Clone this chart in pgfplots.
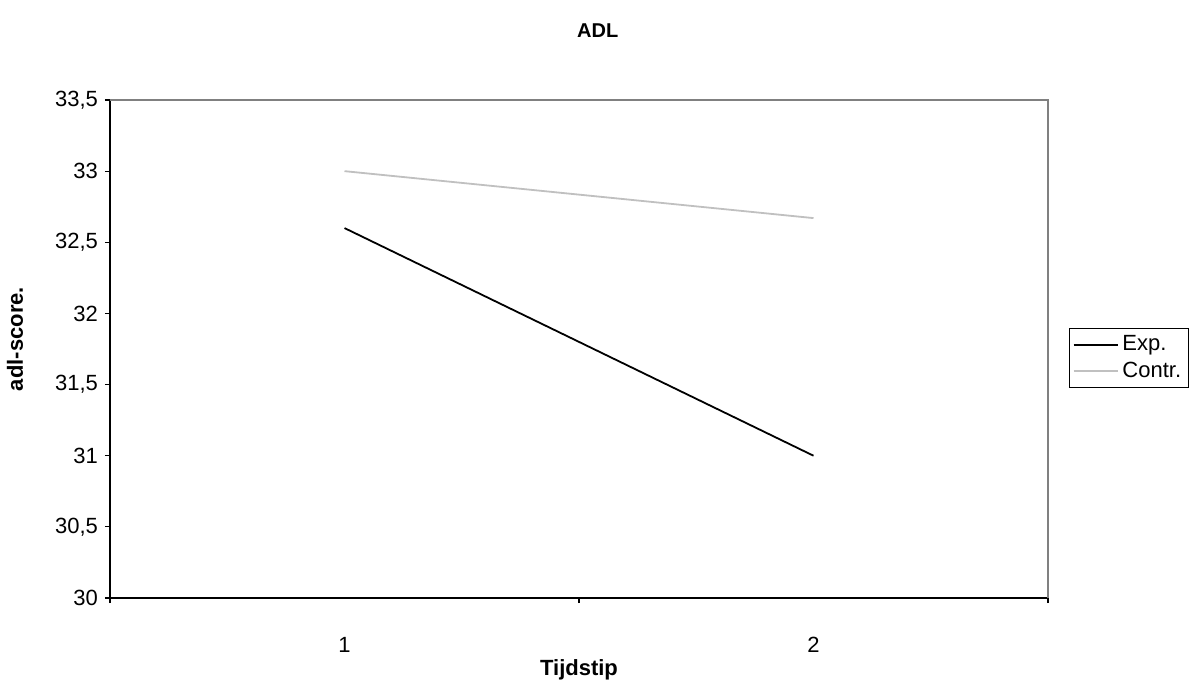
\documentclass[border=0pt]{standalone}
\usepackage{pgfplots}
\pgfplotsset{compat=1.18}
\usepackage{fontspec}
\setmainfont{Liberation Sans}
\definecolor{lgray}{HTML}{C0C0C0}
\definecolor{fgray}{HTML}{808080}
\begin{document}
\begin{tikzpicture}
\begin{axis}[
  name=ax,
  scale only axis,
  width=469pt, height=249pt,
  xmin=0.5, xmax=2.5,
  ymin=30, ymax=33.5,
  axis x line*=bottom,
  axis y line*=left,
  axis line style={black, line width=0.6pt},
  tick align=outside,
  major tick length=2.5pt,
  tick style={black, line width=0.6pt},
  xtick={0.5,1.5,2.5},
  xticklabels={},
  extra x ticks={1,2},
  extra x tick labels={1,2},
  extra x tick style={major tick length=0pt, xticklabel style={yshift=-16pt}},
  ytick={30,30.5,31,31.5,32,32.5,33,33.5},
  /pgf/number format/.cd, use comma, fixed, precision=1, assume math mode=true,
  /pgfplots/.cd,
  ticklabel style={font=\fontsize{11}{13}\selectfont},
  title={\textbf{ADL}},
  title style={at={(axis description cs:0.52,1.1145)}, anchor=center, font=\fontsize{10}{12}\selectfont},
  xlabel={\textbf{Tijdstip}},
  xlabel style={at={(axis description cs:0.5,-0.145)}, anchor=center, font=\fontsize{11}{13}\selectfont},
  ylabel={\textbf{adl-score.}},
  ylabel style={at={(axis description cs:-0.1013,0.52)}, anchor=center, font=\fontsize{11}{13}\selectfont},
  legend style={at={(rel axis cs:1.0224,0.482)}, anchor=west, draw=black, line width=0.6pt,
    font=\fontsize{11}{13}\selectfont, inner sep=1.5pt, row sep=0pt},
  legend cell align=left,
  legend image code/.code={\draw[#1] (0pt,0pt) -- (22pt,0pt);},
  clip=false,
]
\draw[fgray, line width=0.9pt] (rel axis cs:0,1) -- (rel axis cs:1,1) -- (rel axis cs:1,0);
\addplot[black, line width=0.9pt] coordinates {(1,32.6) (2,31.0)};
\addlegendentry{Exp.}
\addplot[lgray, line width=0.9pt] coordinates {(1,33.0) (2,32.67)};
\addlegendentry{Contr.}
\end{axis}
\pgfresetboundingbox
\path[use as bounding box] ([shift={(-55pt,-41.5pt)}]ax.south west) rectangle ([shift={(74.5pt,50pt)}]ax.north east);
\end{tikzpicture}
\end{document}
